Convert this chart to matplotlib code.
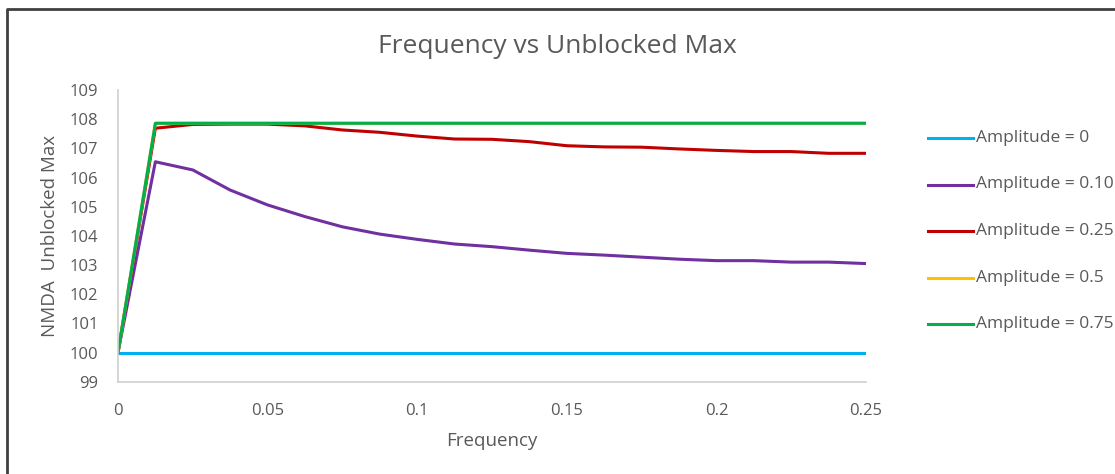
import matplotlib.pyplot as plt
import numpy as np
from matplotlib.lines import Line2D

plt.rcParams['font.family'] = ['Open Sans', 'DejaVu Sans']

# frequency steps 0 .. 0.25
freq = np.arange(21) * 0.0125

amp_0 = [100.0] * 21
amp_010 = [100.0, 106.54, 106.26, 105.57, 105.06, 104.66, 104.31, 104.06, 103.88,
           103.72, 103.63, 103.51, 103.40, 103.34, 103.27, 103.20, 103.15, 103.15,
           103.10, 103.10, 103.05]
amp_025 = [100.0, 107.69, 107.82, 107.83, 107.83, 107.77, 107.63, 107.55, 107.42,
           107.32, 107.31, 107.23, 107.09, 107.05, 107.04, 106.98, 106.93, 106.89,
           106.89, 106.83, 106.83]
amp_05 = [100.0] + [107.86] * 20
amp_075 = [100.0] + [107.86] * 20

labels = ['Amplitude = 0', 'Amplitude = 0.10', 'Amplitude = 0.25',
          'Amplitude = 0.5', 'Amplitude = 0.75']
series = [amp_0, amp_010, amp_025, amp_05, amp_075]
colors = ['#00B0F0', '#7030A0', '#C00000', '#FFC000', '#00B050']

fig = plt.figure(figsize=(11.15, 4.74), dpi=100)
ax = fig.add_axes([0.1058, 0.1947, 0.6709, 0.6154])

for y, c, lab in zip(series, colors, labels):
    ax.plot(freq, y, color=c, lw=2.2, label=lab, solid_joinstyle='round')

ax.set_xlim(0, 0.25)
ax.set_ylim(99, 109)
ax.set_xticks([0, 0.05, 0.1, 0.15, 0.2, 0.25])
ax.set_xticklabels(['0', '0.05', '0.1', '0.15', '0.2', '0.25'])
ax.set_yticks(range(99, 110))
ax.tick_params(length=0, colors='#595959', labelsize=12)
ax.tick_params(axis='x', pad=15)
ax.tick_params(axis='y', pad=14)
for s in ['top', 'right']:
    ax.spines[s].set_visible(False)
for s in ['left', 'bottom']:
    ax.spines[s].set_color('#D0D0D0')
    ax.spines[s].set_linewidth(1.2)

ax.set_xlabel('Frequency', color='#595959', fontsize=13.5, labelpad=10)
ax.set_ylabel('NMDA  Unblocked Max', color='#595959', fontsize=13.5, labelpad=8)
fig.text(0.5, 0.902, 'Frequency vs Unblocked Max', ha='center', va='center',
         fontsize=19, color='#595959')

# legend drawn by hand
y0 = 1 - 138 / 474
dy = 46.5 / 474
for i, (c, lab) in enumerate(zip(colors, labels)):
    yy = y0 - i * dy
    fig.add_artist(Line2D([928 / 1115, 973 / 1115], [yy, yy], color=c, lw=2.2))
    fig.text(976 / 1115, yy, lab, ha='left', va='center', fontsize=12.5,
             color='#595959')

# outer chart frame
fig.add_artist(Line2D([7 / 1115, 7 / 1115, 1.0], [0.0, 1 - 9 / 474, 1 - 9 / 474],
                      color='#404040', lw=2))

fig.savefig('out.png', dpi=100)
